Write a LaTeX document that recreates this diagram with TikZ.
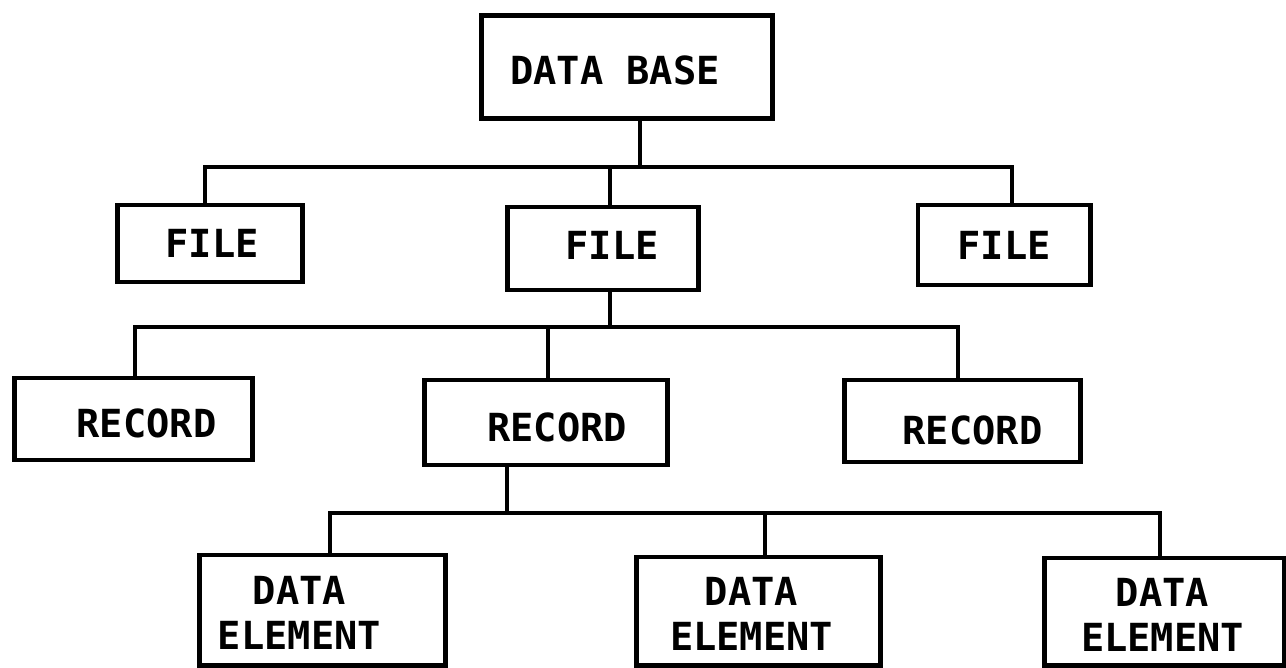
\documentclass[tikz,border=0pt]{standalone}
\usepackage{fontspec}
\newfontfamily\boxfont{DejaVu Sans Mono}
\usetikzlibrary{calc}
\begin{document}
\begin{tikzpicture}[x=0.01cm,y=-0.01cm,
  box/.style={draw, line width=1.4pt, inner sep=0pt},
  boxtext/.style={inner sep=0pt, align=center,
    font=\boxfont\bfseries\fontsize{11}{12.8}\selectfont},
  link/.style={line width=1.4pt}]
\useasboundingbox (0,0) rectangle (1286,667);

% level 0
\node[box, minimum width=2.90cm, minimum height=1.03cm] (db) at (627,67) {};
% level 1
\node[box, minimum width=1.84cm, minimum height=0.77cm] (f1) at (210,243.5) {};
\node[box, minimum width=1.90cm, minimum height=0.83cm] (f2) at (603,248.5) {};
\node[box, minimum width=1.72cm, minimum height=0.80cm] (f3) at (1004,245) {};
% level 2
\node[box, minimum width=2.37cm, minimum height=0.82cm] (r1) at (133.5,419) {};
\node[box, minimum width=2.42cm, minimum height=0.85cm] (r2) at (546,422.5) {};
\node[box, minimum width=2.35cm, minimum height=0.82cm] (r3) at (962.5,421) {};
% level 3
\node[box, minimum width=2.45cm, minimum height=1.10cm] (e1) at (322.5,610) {};
\node[box, minimum width=2.43cm, minimum height=1.08cm] (e2) at (758.5,611) {};
\node[box, minimum width=2.39cm, minimum height=1.07cm] (e3) at (1164.5,611.5) {};

% box captions
\node[boxtext] (tdb) at ($(db)+(-12,3)$) {DATA BASE};
\node[boxtext] (tf1) at ($(f1)+(2,0)$) {FILE};
\node[boxtext] (tf2) at ($(f2)+(9,-3)$) {FILE};
\node[boxtext] (tf3) at ($(f3)+(0,0)$) {FILE};
\node[boxtext] (tr1) at ($(r1)+(13,4)$) {RECORD};
\node[boxtext] (tr2) at ($(r2)+(11,5)$) {RECORD};
\node[boxtext] (tr3) at ($(r3)+(10,9)$) {RECORD};
\node[boxtext] (te1) at ($(e1)+(-23,3)$) {DATA\\ELEMENT};
\node[boxtext] (te2) at ($(e2)+(-7,3)$) {DATA\\ELEMENT};
\node[boxtext] (te3) at ($(e3)+(-2,3)$) {DATA\\ELEMENT};

% junction points on the horizontal bars
\coordinate (j0) at (640,167);
\coordinate (b1l) at (205,167);
\coordinate (b1m) at (610,167);
\coordinate (b1r) at (1012,167);
\coordinate (j1) at (610,327);
\coordinate (b2l) at (135,327);
\coordinate (b2m) at (548,327);
\coordinate (b2r) at (958,327);
\coordinate (j2) at (507,513);
\coordinate (b3l) at (330,513);
\coordinate (b3m) at (765,513);
\coordinate (b3r) at (1160,513);

% data base -> files
\draw[link] (db.south -| j0) -- (j0);
\draw[link] (f1.north -| b1l) |- (b1r) -- (f3.north -| b1r);
\draw[link] (b1m) -- (f2.north -| b1m);
% file -> records
\draw[link] (f2.south -| j1) -- (j1);
\draw[link] (r1.north -| b2l) |- (b2r) -- (r3.north -| b2r);
\draw[link] (b2m) -- (r2.north -| b2m);
% record -> data elements
\draw[link] (r2.south -| j2) -- (j2);
\draw[link] (e1.north -| b3l) |- (b3r) -- (e3.north -| b3r);
\draw[link] (b3m) -- (e2.north -| b3m);
\end{tikzpicture}
\end{document}
